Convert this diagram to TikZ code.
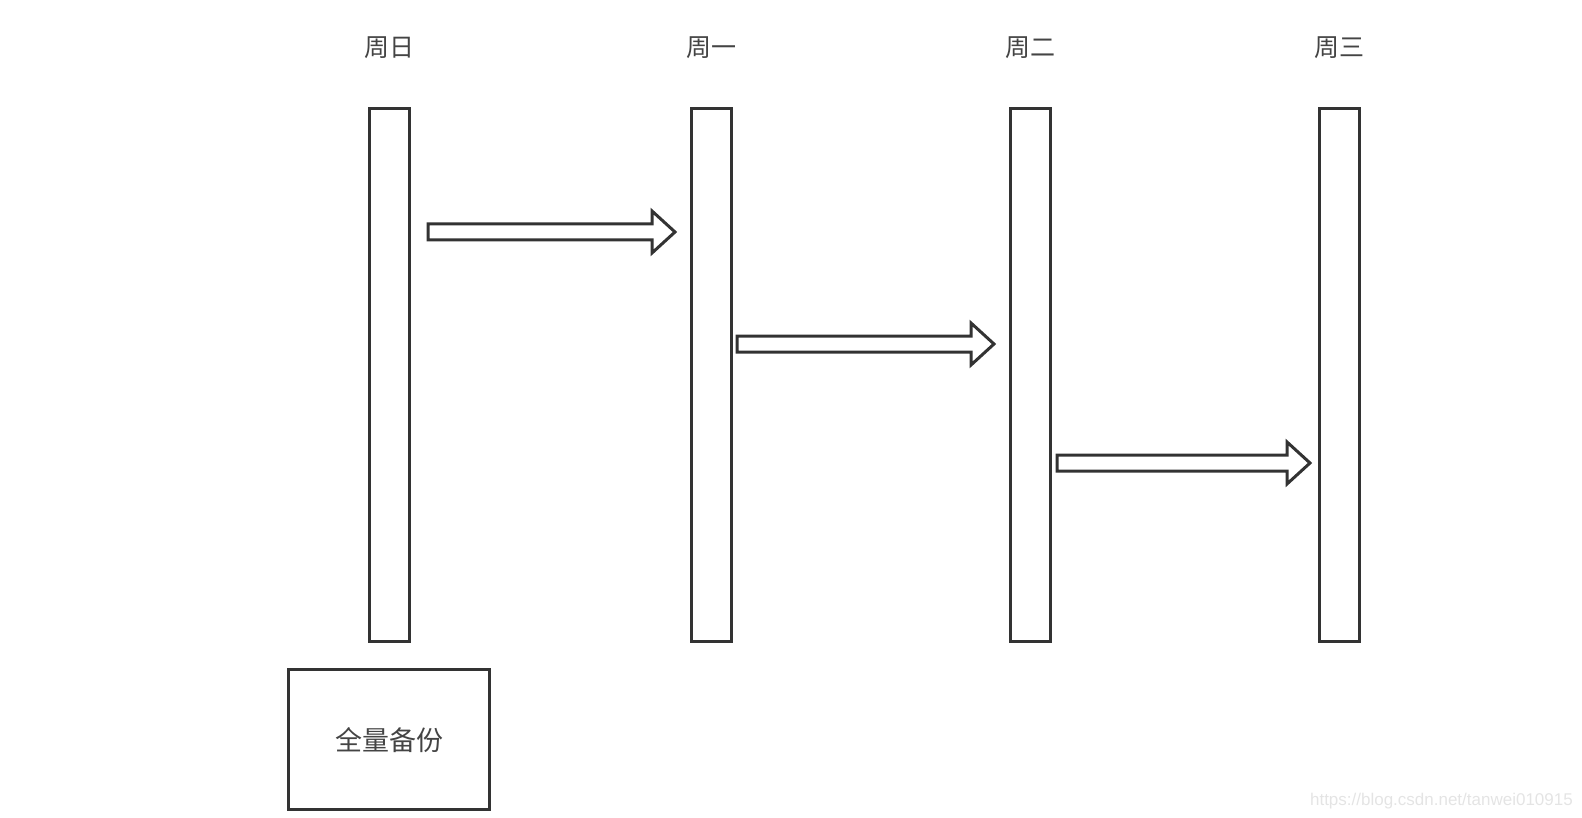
\documentclass[tikz,border=0pt]{standalone}
\usepackage{fontspec}
\setmainfont{Liberation Sans}
\newfontfamily\cjk{Noto Sans CJK SC}
\definecolor{ln}{HTML}{333333}
\definecolor{tx}{HTML}{444444}
\definecolor{wm}{HTML}{E4E4E4}
\begin{document}
\begin{tikzpicture}[x=1pt,y=-1pt,
  bar/.style={draw=ln,line width=3pt,minimum width=40pt,minimum height=533pt,inner sep=0pt},
  lbl/.style={text=tx,font=\cjk\fontsize{25}{27}\selectfont,inner sep=0pt},
  fat/.style={draw=ln,line width=3pt,line join=miter},
  boxst/.style={draw=ln,line width=3pt,minimum width=201pt,minimum height=140pt,inner sep=0pt}]
\useasboundingbox (0,0) rectangle (1582,818);
\node[bar] (b0) at (389,375) {};
\node[bar] (b1) at (711,375) {};
\node[bar] (b2) at (1030,375) {};
\node[bar] (b3) at (1339,375) {};
\node[lbl] (l0) at (389,48) {周日};
\node[lbl] (l1) at (711,48) {周一};
\node[lbl] (l2) at (1030,48) {周二};
\node[lbl] (l3) at (1339,48) {周三};
\node[boxst] (full) at (389,739) {};
\node[lbl,font=\cjk\fontsize{27}{29}\selectfont] (fl) at (389,740) {全量备份};
\node[text=wm,font=\fontsize{17}{19}\selectfont,inner sep=0pt,anchor=east] (wmk) at (1573,801) {https://blog.csdn.net/tanwei010915};
% block arrows
\foreach \sx/\tx/\cy in {428/675/232, 737/994/344, 1057/1310/463}{
  \draw[fat] (\sx,\cy-8) -- (\tx-23,\cy-8) -- (\tx-23,\cy-21) -- (\tx,\cy) -- (\tx-23,\cy+21) -- (\tx-23,\cy+8) -- (\sx,\cy+8) -- cycle;
}
\end{tikzpicture}
\end{document}
